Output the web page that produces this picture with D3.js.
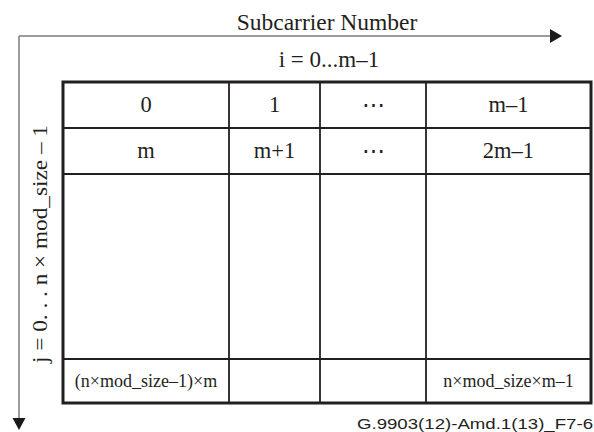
<!DOCTYPE html>
<html>

<head>
    <meta charset="utf-8" />
    <title>Subcarrier mapping table</title>
    <style>
        body {
            margin: 0;
            background-color: #fff;
        }

        svg {
            display: block;
        }

        .serif {
            font-family: "Liberation Serif", "Times New Roman", "DejaVu Serif", serif;
            fill: #231f20;
        }

        .sans {
            font-family: "Liberation Sans", Arial, sans-serif;
            fill: #231f20;
        }
    </style>
</head>

<body>
    <div id="chart"></div>
    <script src="https://cdn.jsdelivr.net/npm/d3@7"></script>
    <script>
        // table contents, one array per row
        var row0 = ["0", "1", "\u22ef", "m\u20131"];
        var row1 = ["m", "m+1", "\u22ef", "2m\u20131"];
        var row2 = ["", "", "", ""];
        var row3 = ["(n\u00d7mod_size\u20131)\u00d7m", "", "", "n\u00d7mod_size\u00d7m\u20131"];
        var rows = [row0, row1, row2, row3];

        var xTitle = "Subcarrier Number";
        var xRange = "i = 0...m\u20131";
        var yRange = "j = 0. . . n \u00d7 mod_size \u2013 1";
        var figId = "G.9903(12)-Amd.1(13)_F7-6";

        // layout
        var w = 594;
        var h = 432;
        var colEdges = [63, 229, 320, 426, 591];
        var rowEdges = [82, 128, 174, 359, 403];
        var axisX = 19;
        var axisY = 36;

        var xScale = d3.scaleLinear()
            .domain(d3.range(colEdges.length))
            .range(colEdges);
        var yScale = d3.scaleLinear()
            .domain(d3.range(rowEdges.length))
            .range(rowEdges);

        var svg = d3.select("#chart")
            .append("svg")
            .attr("width", w)
            .attr("height", h);

        function label(txt, x, y, size, anchor, cls) {
            return svg.append("text")
                .attr("class", cls || "serif")
                .attr("x", x)
                .attr("y", y)
                .attr("text-anchor", anchor || "middle")
                .attr("font-size", size)
                .text(txt);
        }

        // axis arrows
        var axisColor = "#7b7b7b";
        svg.append("line")
            .attr("x1", axisX).attr("y1", axisY)
            .attr("x2", 551).attr("y2", axisY)
            .attr("stroke", axisColor)
            .attr("stroke-width", 1.5);
        svg.append("line")
            .attr("x1", axisX).attr("y1", axisY)
            .attr("x2", axisX).attr("y2", 419)
            .attr("stroke", axisColor)
            .attr("stroke-width", 1.5);
        svg.append("path")
            .attr("d", "M550,29L562,36L550,43Z")
            .attr("fill", "#1a1a1a");
        svg.append("path")
            .attr("d", "M12.5,418L25.5,418L19,430Z")
            .attr("fill", "#1a1a1a");

        label(xTitle, 327, 30, 23.5);
        label(xRange, 329, 67, 23);

        // vertical label, reads bottom to top
        svg.append("text")
            .attr("class", "serif")
            .attr("transform", "translate(47,244) rotate(-90)")
            .attr("text-anchor", "middle")
            .attr("font-size", 22)
            .attr("textLength", 238)
            .attr("lengthAdjust", "spacingAndGlyphs")
            .text(yRange);

        // inner grid lines
        var grid = svg.append("g")
            .attr("stroke", "#231f20")
            .attr("stroke-width", 1.8);

        grid.selectAll(".vline")
            .data(d3.range(1, colEdges.length - 1))
            .enter()
            .append("line")
            .attr("class", "vline")
            .attr("x1", function(d) { return xScale(d); })
            .attr("x2", function(d) { return xScale(d); })
            .attr("y1", yScale(0))
            .attr("y2", yScale(rows.length));

        grid.selectAll(".hline")
            .data(d3.range(1, rows.length))
            .enter()
            .append("line")
            .attr("class", "hline")
            .attr("x1", xScale(0))
            .attr("x2", xScale(colEdges.length - 1))
            .attr("y1", function(d) { return yScale(d); })
            .attr("y2", function(d) { return yScale(d); });

        // outer border
        svg.append("rect")
            .attr("x", xScale(0))
            .attr("y", yScale(0))
            .attr("width", xScale(colEdges.length - 1) - xScale(0))
            .attr("height", yScale(rows.length) - yScale(0))
            .attr("fill", "none")
            .attr("stroke", "#231f20")
            .attr("stroke-width", 3);

        // cell labels
        rows.forEach(function(row, r) {
            var size = r === rows.length - 1 ? 18 : 22.5;
            var cy = (yScale(r) + yScale(r + 1)) / 2;
            row.forEach(function(txt, c) {
                if (!txt) return;
                var cx = (xScale(c) + xScale(c + 1)) / 2;
                label(txt, cx, cy + size * 0.33, size);
            });
        });

        label(figId, 593, 429, 15.5, "end", "sans")
            .attr("textLength", 236)
            .attr("lengthAdjust", "spacingAndGlyphs");
    </script>
</body>

</html>
